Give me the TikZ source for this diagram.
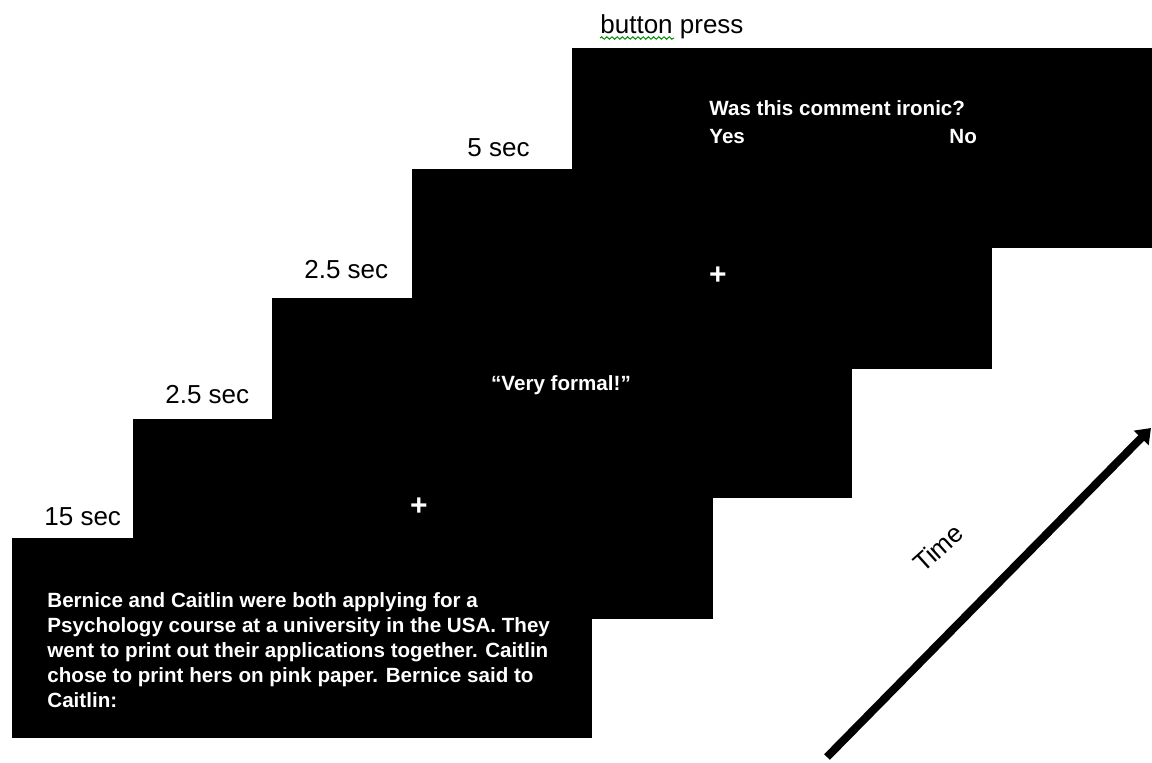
\documentclass[tikz,border=0pt]{standalone}
\usepackage{fontspec}
\setmainfont{Liberation Sans}
\usetikzlibrary{positioning}
\usetikzlibrary{arrows.meta}
\usetikzlibrary{decorations.pathmorphing}

\begin{document}
\begin{tikzpicture}[x=0.5pt, y=-0.5pt]
		
		\tikzset{
			screen/.style={fill=black, inner sep=0pt, anchor=north west,
				minimum width=290pt, minimum height=100pt},
			durlbl/.style={inner sep=0pt, anchor=base west, font=\fontsize{13}{15}\selectfont},
			scrtxt/.style={inner sep=0pt, text=white, font=\fontsize{10.3}{12.5}\selectfont\bfseries},
			fixcross/.style={inner sep=0pt, text=white, font=\fontsize{15}{17}\selectfont\bfseries},
			timearrow/.style={line width=4pt, -{Triangle[length=7pt, width=10pt]}},
			spell/.style={green!55!black, line width=0.5pt, decorate,
				decoration={snake, amplitude=0.6pt, segment length=2.6pt}}
		}
		
		% page frame (1152 x 762)
		\fill[white] (0,0) rectangle (1152,762);
		\useasboundingbox (0,0) rectangle (1152,762);
		
		% --- the five screens, back to front ---
		\foreach \sx/\sy/\n in {572/48/5, 412/169/4, 272/298/3, 133/419/2, 12/538/1} {
			\node[screen] (scr\n) at (\sx,\sy) {};
		}
		
		% durations above each screen
		\node[durlbl] (dur1) at (44,525) {15 sec};
		\node[durlbl] (dur2) at (165,403) {2.5 sec};
		\node[durlbl] (dur3) at (304,278) {2.5 sec};
		\node[durlbl] (dur4) at (467,156) {5 sec};
		\node[durlbl] (dur5) at (600,33) {button press};
		\draw[spell] ([yshift=-2.5pt]dur5.base west) -- ++(74,0); % spell-check mark
		
		% screen 1: story
		\node[scrtxt, anchor=north west, align=left] (story) at (47,592) {%
			Bernice and Caitlin were both applying for a\\
			Psychology course at a university in the USA. They\\
			went to print out their applications together. Caitlin\\
			chose to print hers on pink paper. Bernice said to\\
			Caitlin:};
		
		% screens 2 and 4: fixation
		\node[fixcross] (fix1) at (419,507) {+};
		\node[fixcross] (fix2) at (718,276) {+};
		
		% screen 3: comment
		\node[scrtxt, anchor=base] (comment) at (561,390) {“Very formal!”};
		
		% screen 5: question
		\node[scrtxt, anchor=base west] (quest) at (709,115) {Was this comment ironic?};
		\node[scrtxt, anchor=base west] (yes) at (709,143) {Yes};
		\node[scrtxt, anchor=base west] (no) at (949,143) {No};
		
		% time axis
		\coordinate (tstart) at (827,757);
		\coordinate (tend) at (1151,428);
		\draw[timearrow] (tstart) -- (tend);
		\node[rotate=42, font=\fontsize{13}{15}\selectfont] (timelbl) at (938,548) {Time};
		
	\end{tikzpicture}
\end{document}
